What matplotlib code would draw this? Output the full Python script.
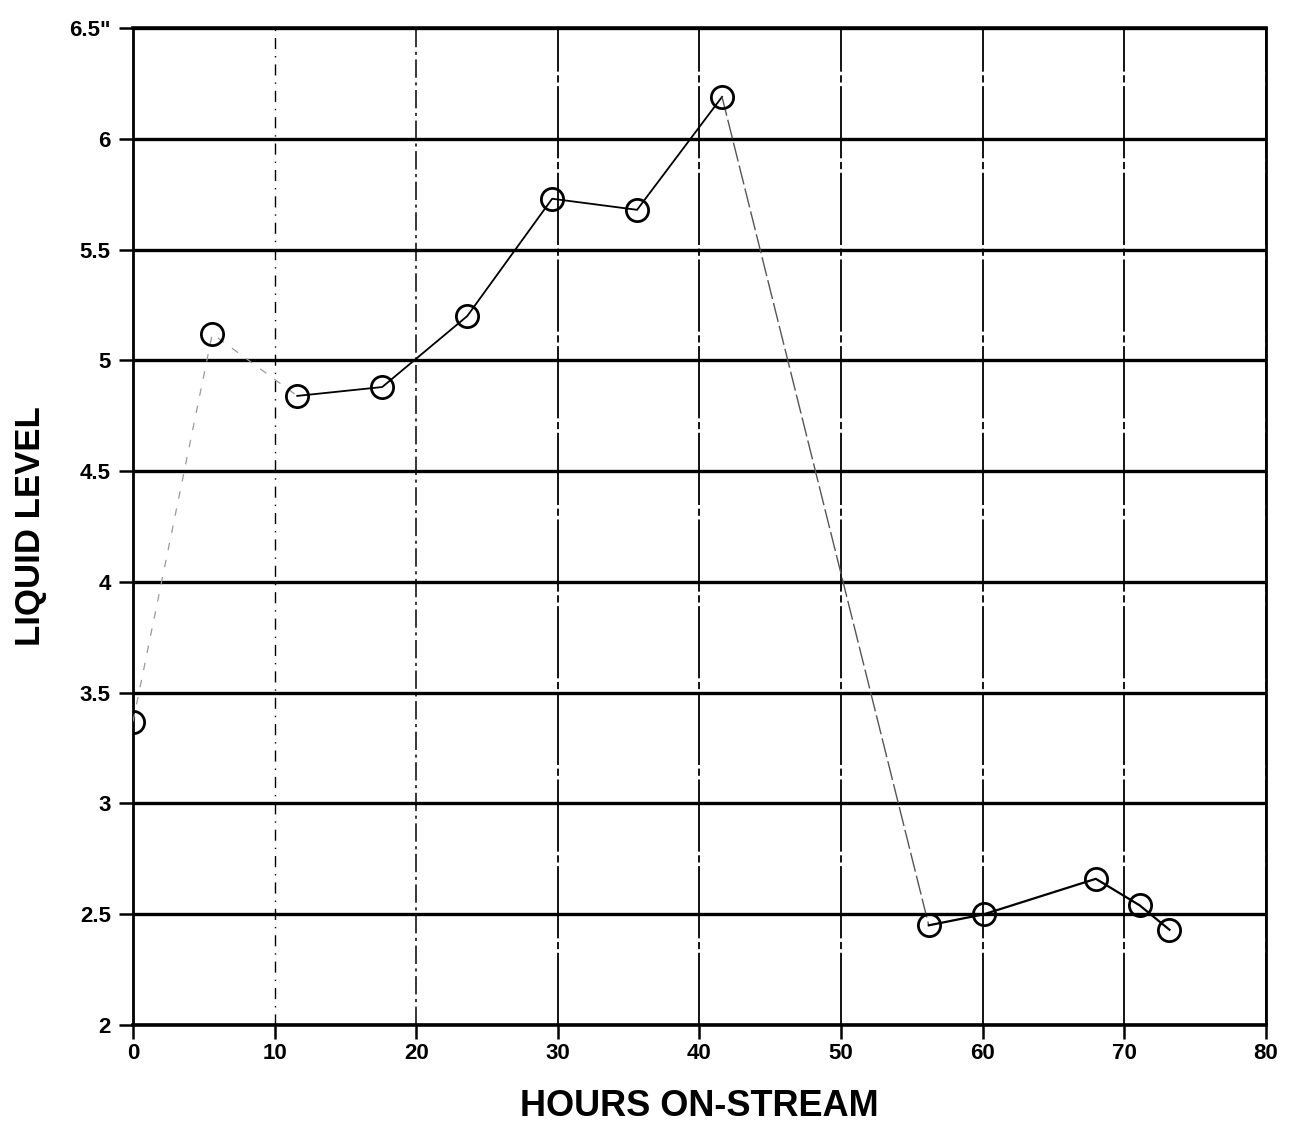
import matplotlib
matplotlib.use("Agg")
import matplotlib.pyplot as plt

# data
hours = [0, 5.6, 11.6, 17.6, 23.6, 29.6, 35.6, 41.6, 56.2, 60.1, 68.0, 71.1, 73.2]
level = [3.37, 5.12, 4.84, 4.88, 5.20, 5.73, 5.68, 6.19, 2.45, 2.50, 2.66, 2.54, 2.43]

xticks = [0, 10, 20, 30, 40, 50, 60, 70, 80]
yticks = [2, 2.5, 3, 3.5, 4, 4.5, 5, 5.5, 6, 6.5]
ylabels = ["2", "2.5", "3", "3.5", "4", "4.5", "5", "5.5", "6", '6.5"']

plt.rcParams["font.family"] = ["Liberation Sans", "DejaVu Sans"]
plt.rcParams["font.weight"] = "bold"

fig = plt.figure(figsize=(12.99, 11.27), dpi=100)
ax = fig.add_axes([0.1024, 0.0905, 0.872, 0.8845])

# faint early part of the trace, then the solid part
ax.plot(hours[:3], level[:3], color="#999999", lw=0.9, ls=(0, (6, 8)), zorder=3)
ax.plot(hours[2:8], level[2:8], color="black", lw=1.3, zorder=3)
ax.plot(hours[7:9], level[7:9], color="#555555", lw=1.0, ls=(0, (14, 3)), zorder=3)
ax.plot(hours[8:], level[8:], color="black", lw=1.6, zorder=3)
ax.plot(hours, level, ls="none", marker="o", ms=16, mfc="none", mec="black", mew=2.0, zorder=4)

ax.set_xlim(0, 80)
ax.set_ylim(2, 6.5)
ax.set_xticks(xticks)
ax.set_yticks(yticks)
ax.set_yticklabels(ylabels)
ax.tick_params(axis="both", direction="out", length=10, width=1.8, labelsize=16)
ax.tick_params(axis="y", pad=6)
ax.tick_params(axis="x", pad=3)

ax.grid(axis="y", color="black", lw=2.4)
ax.grid(axis="x", color="black", lw=1.3)
xgl = ax.get_xgridlines()
xgl[1].set_linestyle((0, (8, 5, 1, 5)))
xgl[1].set_linewidth(1.0)
xgl[2].set_linestyle((0, (12, 3, 2, 3)))
xgl[2].set_linewidth(1.1)
for g in xgl[3:]:
    g.set_linestyle((0, (40, 2, 4, 2)))
ax.set_axisbelow(True)

for s in ax.spines.values():
    s.set_linewidth(2.0)
ax.spines["top"].set_linewidth(2.6)
ax.spines["bottom"].set_linewidth(2.6)

ax.set_xlabel("HOURS ON-STREAM", fontsize=26, fontweight="bold", labelpad=18)
ax.set_ylabel("LIQUID LEVEL", fontsize=25, fontweight="bold", labelpad=16)

fig.savefig("out.png", dpi=100)
